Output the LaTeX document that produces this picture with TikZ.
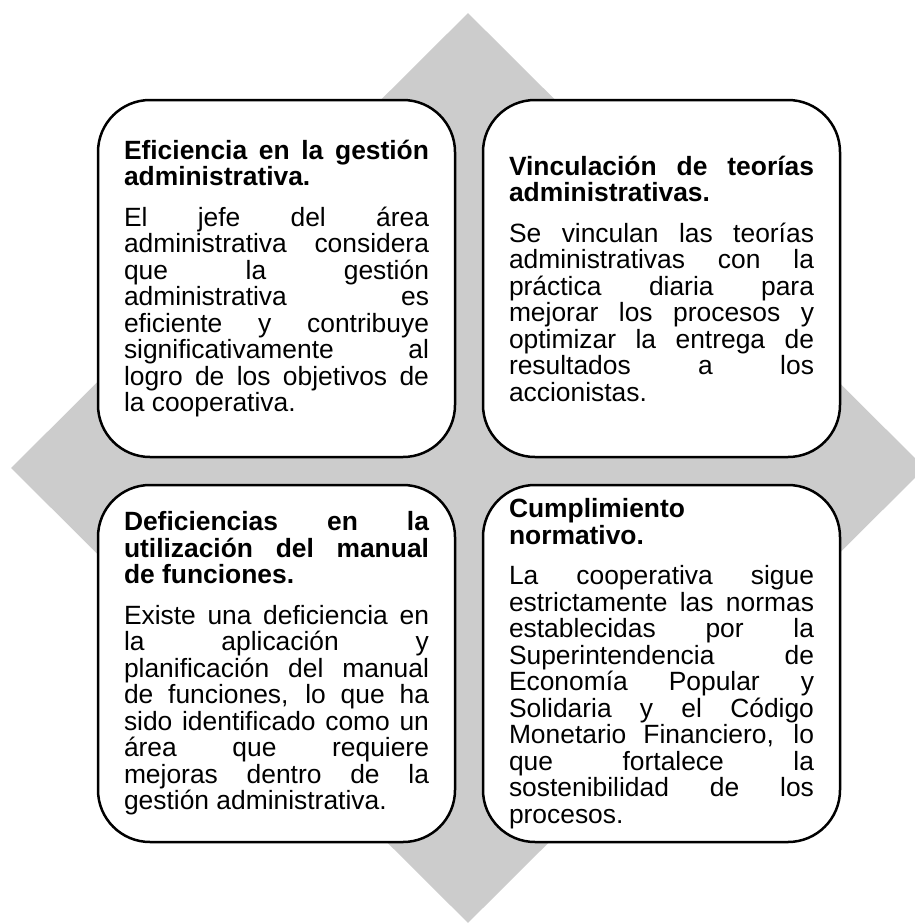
\documentclass[tikz,border=0pt]{standalone}
\usepackage{fontspec}
\setmainfont{Liberation Sans}
\usetikzlibrary{positioning, shapes.geometric}
\definecolor{rombogray}{RGB}{204,204,204}
\parindent=0pt
\tolerance=10000
\hbadness=10000
\hyphenpenalty=10000
\lineskiplimit=-100pt
\newcommand{\cardtitle}[1]{{\bfseries #1\par}\vspace{14pt}}

\begin{document}
\begin{tikzpicture}[x=1pt, y=1pt,
card/.style={
    rectangle,
    draw=black,
    fill=white,
    line width=2.5pt,
    rounded corners=52pt,
    minimum width=357pt,
    minimum height=357pt,
    inner sep=0pt,
    outer sep=0pt,
    text width=305pt,
    align=justify,
    font=\fontsize{26.4pt}{26.5pt}\selectfont
}]

  \useasboundingbox (0,0) rectangle (915,-924);

  \node[diamond, fill=rombogray, minimum width=914pt, minimum height=910pt, inner sep=0pt] (rombo) at (468,-468) {};
  \coordinate (centro) at (469,-471);

  \node[card, above left=14pt and 14pt of centro] (efic) {\cardtitle{Eficiencia en la gestión\linebreak administrativa.}El jefe del área\linebreak administrativa considera\linebreak que la gestión\linebreak administrativa es\linebreak eficiente y contribuye\linebreak significativamente al\linebreak logro de los objetivos de\linebreak la cooperativa.};
  \node[card, right=28pt of efic] (vinc) {\cardtitle{Vinculación de teorías\linebreak administrativas.}Se vinculan las teorías\linebreak administrativas con la\linebreak práctica diaria para\linebreak mejorar los procesos y\linebreak optimizar la entrega de\linebreak resultados a los\linebreak accionistas.};
  \node[card, below=28pt of efic] (defic) {\cardtitle{Deficiencias en la\linebreak utilización del manual\linebreak de funciones.}Existe una deficiencia en\linebreak la aplicación y\linebreak planificación del manual\linebreak de funciones, lo que ha\linebreak sido identificado como un\linebreak área que requiere\linebreak mejoras dentro de la\linebreak gestión administrativa.};
  \node[card, below=28pt of vinc] (cumpl) {\cardtitle{Cumplimiento\linebreak normativo.}La cooperativa sigue\linebreak estrictamente las normas\linebreak establecidas por la\linebreak Superintendencia de\linebreak Economía Popular y\linebreak Solidaria y el Código\linebreak Monetario Financiero, lo\linebreak que fortalece la\linebreak sostenibilidad de los\linebreak procesos.};

\end{tikzpicture}
\end{document}
